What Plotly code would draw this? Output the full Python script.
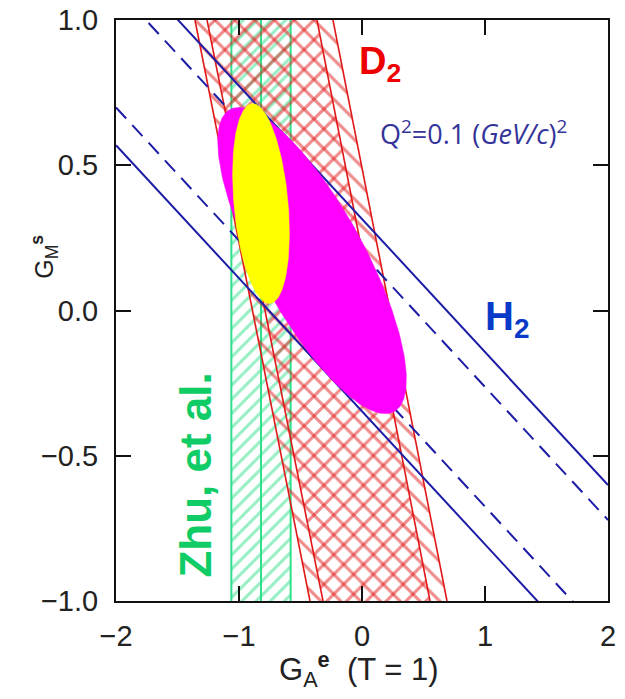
import numpy as np
import plotly.graph_objects as go

# ---------------- data ----------------
x_range = [-2.0, 2.0]
y_range = [-1.0, 1.0]
x_ticks = [-2, -1, 0, 1, 2]
y_ticks = [-1.0, -0.5, 0.0, 0.5, 1.0]

# Zhu et al. band in G_A^e : lower bound, central value, upper bound
zhu_ga = [-1.062, -0.821, -0.580]

# D2 band edges: G_A^e values at G_M^s = +1 and -1
d2_gms = [1.0, -1.0]
d2_outer_left = [-1.358, -0.423]
d2_inner_left = [-1.260, -0.317]
d2_inner_right = [-0.366, 0.553]
d2_outer_right = [-0.236, 0.691]

# H2 band lines: G_M^s values at G_A^e = -2 and +2
h2_gae = [-2.0, 2.0]
h2_solid_upper = [1.231, -0.601]
h2_dash_upper = [1.111, -0.721]
h2_dash_lower = [0.699, -1.133]
h2_solid_lower = [0.569, -1.263]

# Ellipses: centre and two conjugate semi-axis vectors (data units)
mag_center = [-0.406, 0.172]
mag_axis1 = [0.667, -0.520]
mag_axis2 = [-0.378, -0.087]
yel_center = [-0.821, 0.368]
yel_axis1 = [0.073, -0.344]
yel_axis2 = [-0.219, -0.008]

# ---------------- styles ----------------
GREEN = "#2ee08a"
RED = "#e01818"
BLUE_LINE = "#1c1ca6"


def ellipse(c, a1, a2, n=240):
    t = np.linspace(0, 2 * np.pi, n)
    x = c[0] + a1[0] * np.cos(t) + a2[0] * np.sin(t)
    y = c[1] + a1[1] * np.cos(t) + a2[1] * np.sin(t)
    return x, y


fig = go.Figure()

# Zhu et al. hatched band
fig.add_trace(go.Scatter(
    x=[zhu_ga[0], zhu_ga[2], zhu_ga[2], zhu_ga[0], zhu_ga[0]],
    y=[y_range[1], y_range[1], y_range[0], y_range[0], y_range[1]],
    mode="none", fill="toself", fillcolor="rgba(0,0,0,0)",
    fillpattern=dict(shape="/", fgcolor=GREEN, bgcolor="rgba(0,0,0,0)",
                     size=10, solidity=0.3),
    hoverinfo="skip", showlegend=False))
for gx in zhu_ga:
    fig.add_trace(go.Scatter(x=[gx, gx], y=y_range, mode="lines",
                             line=dict(color=GREEN, width=2),
                             hoverinfo="skip", showlegend=False))

# D2 bands
fig.add_trace(go.Scatter(
    x=[d2_outer_left[0], d2_outer_right[0], d2_outer_right[1], d2_outer_left[1], d2_outer_left[0]],
    y=[d2_gms[0], d2_gms[0], d2_gms[1], d2_gms[1], d2_gms[0]],
    mode="none", fill="toself", fillcolor="rgba(0,0,0,0)",
    fillpattern=dict(shape="\\", fgcolor=RED, bgcolor="rgba(0,0,0,0)",
                     size=14, solidity=0.22),
    hoverinfo="skip", showlegend=False))
fig.add_trace(go.Scatter(
    x=[d2_inner_left[0], d2_inner_right[0], d2_inner_right[1], d2_inner_left[1], d2_inner_left[0]],
    y=[d2_gms[0], d2_gms[0], d2_gms[1], d2_gms[1], d2_gms[0]],
    mode="none", fill="toself", fillcolor="rgba(0,0,0,0)",
    fillpattern=dict(shape="/", fgcolor=RED, bgcolor="rgba(0,0,0,0)",
                     size=14, solidity=0.22),
    hoverinfo="skip", showlegend=False))
for edge in [d2_outer_left, d2_inner_left, d2_inner_right, d2_outer_right]:
    fig.add_trace(go.Scatter(x=edge, y=d2_gms, mode="lines",
                             line=dict(color=RED, width=1.6),
                             hoverinfo="skip", showlegend=False))

# H2 lines
for vals, dash in [(h2_solid_upper, "solid"), (h2_dash_upper, "15px,9px"),
                   (h2_dash_lower, "15px,9px"), (h2_solid_lower, "solid")]:
    fig.add_trace(go.Scatter(x=h2_gae, y=vals, mode="lines",
                             line=dict(color=BLUE_LINE, width=2, dash=dash),
                             hoverinfo="skip", showlegend=False))

# Ellipses
mx, my = ellipse(mag_center, mag_axis1, mag_axis2)
fig.add_trace(go.Scatter(x=mx, y=my, mode="lines", fill="toself",
                         fillcolor="#ff00ff", line=dict(color="#ff00ff", width=0.5),
                         hoverinfo="skip", showlegend=False))
yx, yy = ellipse(yel_center, yel_axis1, yel_axis2)
fig.add_trace(go.Scatter(x=yx, y=yy, mode="lines", fill="toself",
                         fillcolor="#ffff00", line=dict(color="#ffff00", width=0.5),
                         hoverinfo="skip", showlegend=False))

# Text labels
fig.add_annotation(x=-0.04, y=0.85, xref="x", yref="y", xanchor="left", yanchor="middle",
                   text="<b>D<sub>2</sub></b>", showarrow=False,
                   font=dict(family="Liberation Sans", size=38, color="#ee0000"))
fig.add_annotation(x=0.13, y=0.613, xref="x", yref="y", xanchor="left", yanchor="middle",
                   text="Q<sup>2</sup>=0.1 (<i>GeV/c</i>)<sup>2</sup>", showarrow=False,
                   font=dict(family="Open Sans", size=27, color="#34349a"))
fig.add_annotation(x=0.98, y=-0.03, xref="x", yref="y", xanchor="left", yanchor="middle",
                   text="<b>H<sub>2</sub></b>", showarrow=False,
                   font=dict(family="Liberation Sans", size=40, color="#0a3ac8"))
fig.add_annotation(x=-1.35, y=-0.565, xref="x", yref="y", xanchor="center", yanchor="middle",
                   text="<b>Zhu, et al.</b>", showarrow=False, textangle=-90,
                   font=dict(family="Liberation Sans", size=44, color="#10cc66"))

# axis titles
fig.add_annotation(x=-0.145, y=0.592, xref="paper", yref="paper",
                   xanchor="center", yanchor="middle", textangle=-90,
                   text="G<sub>M</sub><sup><b>s</b></sup>", showarrow=False,
                   font=dict(family="Liberation Sans", size=25, color="#222"))
fig.add_annotation(x=0.493, y=-0.118, xref="paper", yref="paper",
                   xanchor="center", yanchor="middle",
                   text="G<sub>A</sub><sup><b>e</b></sup>  (T = 1)", showarrow=False,
                   font=dict(family="Liberation Sans", size=31, color="#222"))

axis_common = dict(showgrid=False, zeroline=False, showline=True, linecolor="#111",
                   linewidth=2, mirror="ticks", ticks="inside", ticklen=15,
                   tickwidth=1.5, tickcolor="#111", automargin=False,
                   ticklabeloverflow="allow",
                   tickfont=dict(family="Liberation Sans", size=29, color="#222"))

fig.update_layout(
    width=625, height=699, autosize=False,
    margin=dict(l=116, r=17, t=20, b=98),
    paper_bgcolor="white", plot_bgcolor="white",
    xaxis=dict(range=x_range, tickvals=x_ticks, ticklabelstandoff=8, **axis_common),
    yaxis=dict(range=y_range, tickvals=y_ticks, tickformat=".1f", ticklabelstandoff=10,
               **axis_common),
)

# remove the page's default body margin so the figure fills the window
fig.write_html("out.html", config={"displayModeBar": False},
               post_script="document.body.style.margin='0';document.body.style.overflow='hidden';")
